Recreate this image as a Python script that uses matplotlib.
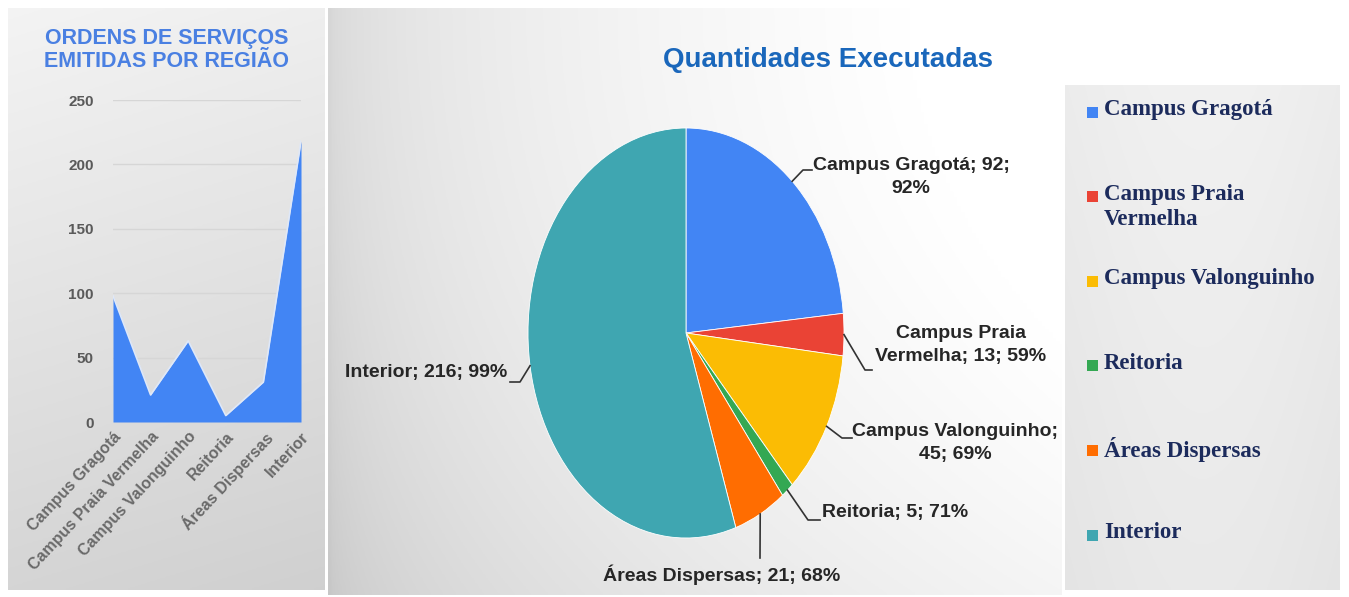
import matplotlib
matplotlib.use('Agg')
import matplotlib.pyplot as plt
import numpy as np
from matplotlib.patches import Rectangle

# area chart: ordens de servico por regiao
regioes = ['Campus Gragotá', 'Campus Praia Vermelha', 'Campus Valonguinho',
           'Reitoria', 'Áreas Dispersas', 'Interior']
ordens = [98, 21, 63, 5, 31, 218]
yticks_ordens = [0, 50, 100, 150, 200, 250]

# pie: quantidades executadas
quantidades = [92, 13, 45, 5, 21, 216]
legend_labels = ['Campus Gragotá', 'Campus Praia\nVermelha', 'Campus Valonguinho',
                 'Reitoria', 'Áreas Dispersas', 'Interior']
pie_texts = ['Campus Gragotá; 92;\n92%', 'Campus Praia\nVermelha; 13; 59%',
             'Campus Valonguinho;\n45; 69%', 'Reitoria; 5; 71%',
             'Áreas Dispersas; 21; 68%', 'Interior; 216; 99%']
cores = ['#4285F4', '#EA4335', '#FBBC04', '#34A853', '#FF6D01', '#3FA6B1']

W, H = 1349, 597
fig = plt.figure(figsize=(W / 100, H / 100), dpi=100)
fig.patch.set_facecolor('white')

def box(x0, y0, x1, y1):
    # pixel box (top-left origin) -> figure fraction rect
    return [x0 / W, 1 - y1 / H, (x1 - x0) / W, (y1 - y0) / H]

# background panels
bg = fig.add_axes([0, 0, 1, 1], zorder=0)
bg.set_xlim(0, W)
bg.set_ylim(H, 0)
bg.axis('off')

gy = np.linspace(0, 1, 200)[:, None]
gx = np.linspace(0, 1, 200)[None, :]
left_grad = 0.955 - 0.12 * gy - 0.02 * gx
bg.imshow(np.dstack([left_grad] * 3), extent=(8, 325, 590, 8), aspect='auto', zorder=1)
mid_grad = np.clip(0.84 + 0.18 * np.sqrt(gx) - 0.06 * gy ** 2, 0, 1)
bg.imshow(np.dstack([mid_grad] * 3), extent=(328, 1062, 595, 8), aspect='auto', zorder=1)
leg_grad = np.clip(0.925 - 0.03 * gy + 0.02 * np.sin(np.pi * gx), 0, 1)
bg.imshow(np.dstack([leg_grad] * 3), extent=(1065, 1340, 590, 85), aspect='auto', zorder=1)

# left: area chart
ax = fig.add_axes(box(113, 100, 301, 422), zorder=2)
ax.patch.set_alpha(0)
xs = np.arange(len(regioes))
ax.fill_between(xs, ordens, 0, color='#4285F4', lw=0, zorder=3)
ax.plot(xs, ordens, color='#dfe8f8', lw=1.2, zorder=4)
ax.set_xlim(xs[0], xs[-1])
ax.set_ylim(0, 250)
ax.set_yticks(yticks_ordens)
ax.grid(axis='y', color='#d6d6d6', lw=1.0, zorder=0)
for s in ax.spines.values():
    s.set_visible(False)
ax.tick_params(length=0, colors='#666666')
ax.tick_params(axis='y', pad=14)
ax.set_yticklabels([str(v) for v in yticks_ordens], fontsize=11,
                   fontweight='bold', family='Liberation Sans', color='#5a5a5a')
ax.set_xticks(xs)
ax.set_xticklabels(regioes, rotation=47, ha='right', rotation_mode='anchor',
                   fontsize=11.5, fontweight='bold', family='Liberation Sans',
                   color='#6a6a6a')
ax.tick_params(axis='x', pad=5)
fig.text(167 / W, 1 - 50 / H, 'ORDENS DE SERVIÇOS\nEMITIDAS POR REGIÃO',
         ha='center', va='center', fontsize=15.5, fontweight='bold',
         family='Liberation Sans', color='#4a80e2', linespacing=1.15)

# middle: pie
cx, cy, rx, ry = 686, 333, 158, 205
axp = fig.add_axes(box(cx - rx, cy - ry, cx + rx, cy + ry), zorder=2)
wedges, _ = axp.pie(quantidades, colors=cores, startangle=90, counterclock=False,
                    radius=1, wedgeprops=dict(edgecolor='white', linewidth=0.6))
axp.set_aspect('auto')
axp.set_xlim(-1, 1)
axp.set_ylim(-1, 1)

fig.text(828 / W, 1 - 60 / H, 'Quantidades Executadas', ha='center', va='center',
         fontsize=20, fontweight='bold', family='Liberation Sans',
         color='#1a67bb')

# labels and leader lines, drawn on an overlay in pixel coords
ov = fig.add_axes([0, 0, 1, 1], zorder=5)
ov.set_xlim(0, W)
ov.set_ylim(H, 0)
ov.axis('off')

# (elbow x, elbow y, end x) for each leader, text position and alignment
leader_pts = [(803, 170, 812), (865, 370, 872), (842, 438, 852),
              (808, 520, 820), (760, 558, 760), (520, 382, 510)]
text_pos = [(911, 177, 'center'), (961, 345, 'center'), (955, 443, 'center'),
            (822, 512, 'left'), (722, 575, 'center'), (507, 372, 'right')]
for w, (ex, ey, tx), (px, py, ha), txt in zip(wedges, leader_pts, text_pos, pie_texts):
    ang = np.deg2rad((w.theta1 + w.theta2) / 2)
    sx = cx + rx * np.cos(ang)
    sy = cy - ry * np.sin(ang)
    ov.plot([sx, ex, tx], [sy, ey, ey], color='#333333', lw=1.2)
    ov.text(px, py, txt, ha=ha, va='center', multialignment='center',
            fontsize=14, fontweight='bold', color='#262626',
            family='Liberation Sans', linespacing=1.4)

# legend panel
for i, (lab, c) in enumerate(zip(legend_labels, cores)):
    yc = 112 + i * 84.6
    ov.add_patch(Rectangle((1087, yc - 5.5), 11, 11, color=c, lw=0))
    ov.text(1104, yc - 13, lab, ha='left', va='top', fontsize=16.5,
            fontweight='bold', family='Liberation Serif', color='#1c2b5c',
            linespacing=1.3)

fig.savefig('out.png', dpi=100)
